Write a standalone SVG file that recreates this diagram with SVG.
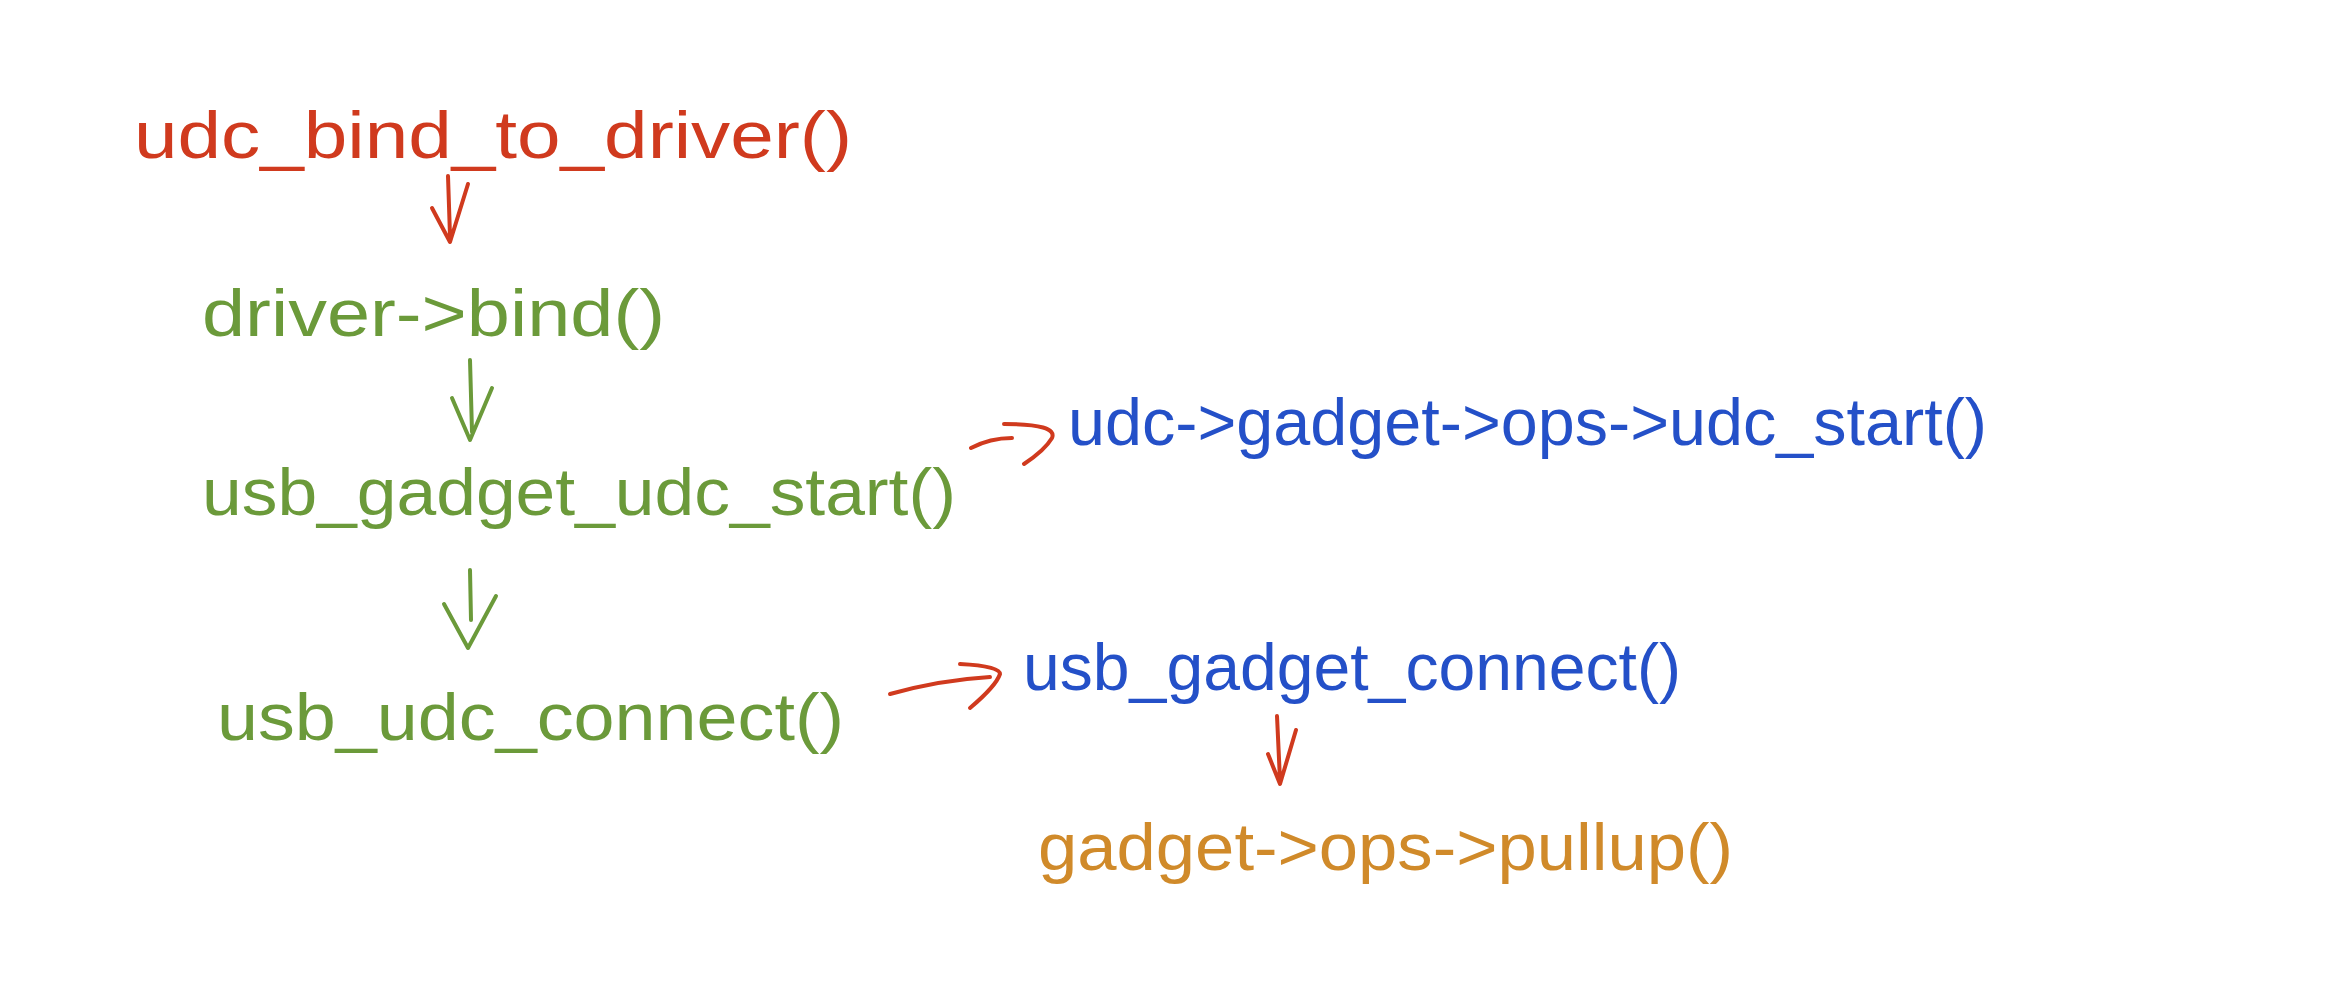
<svg xmlns="http://www.w3.org/2000/svg" width="2343" height="1000" viewBox="0 0 2343 1000">
<style>
text{font-family:"Liberation Sans",Arial,sans-serif;font-size:66px}
.r{fill:#d03a1e}.g{fill:#6b9a3a}.b{fill:#2450c8}.o{fill:#d08a2a}
.c path{fill:none;stroke-width:4;stroke-linecap:round;stroke-linejoin:round}
</style>
<rect width="2343" height="1000" fill="#fff"/>
<g id="n1"><text class="r" x="134" y="158" textLength="718" lengthAdjust="spacingAndGlyphs">udc_bind_to_driver()</text></g>
<g id="n2"><text class="g" x="202" y="336" textLength="463" lengthAdjust="spacingAndGlyphs">driver-&gt;bind()</text></g>
<g id="n3"><text class="g" x="202" y="515" textLength="754" lengthAdjust="spacingAndGlyphs">usb_gadget_udc_start()</text></g>
<g id="n4"><text class="b" x="1068" y="445" textLength="919" lengthAdjust="spacingAndGlyphs">udc-&gt;gadget-&gt;ops-&gt;udc_start()</text></g>
<g id="n5"><text class="g" x="217" y="740" textLength="627" lengthAdjust="spacingAndGlyphs">usb_udc_connect()</text></g>
<g id="n6"><text class="b" x="1023" y="690" textLength="658" lengthAdjust="spacingAndGlyphs">usb_gadget_connect()</text></g>
<g id="n7"><text class="o" x="1038" y="870" textLength="695" lengthAdjust="spacingAndGlyphs">gadget-&gt;ops-&gt;pullup()</text></g>
<g id="connectors" class="c">
<path stroke="#d03a1e" d="M448 176 L450 236 M432 208 L450 242 L468 184"/>
<path stroke="#6b9a3a" d="M470 360 L472 432 M452 398 L470 440 L492 388"/>
<path stroke="#6b9a3a" d="M470 570 L471 620 M444 604 L468 648 L496 596"/>
<path stroke="#d03a1e" d="M971 448 Q990 438 1012 438 M1004 424 Q1058 424 1052 438 Q1045 450 1024 464"/>
<path stroke="#d03a1e" d="M890 694 Q940 680 990 677 M960 664 Q1000 666 1000 674 Q996 686 970 708"/>
<path stroke="#d03a1e" d="M1277 716 L1280 780 M1268 754 L1280 784 L1296 730"/>
</g>
</svg>
